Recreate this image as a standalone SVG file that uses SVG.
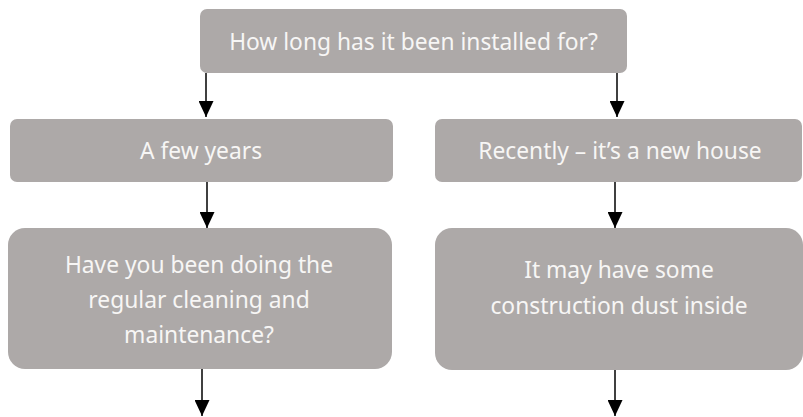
<svg xmlns="http://www.w3.org/2000/svg" width="803" height="417" viewBox="0 0 803 417">
<style>
.box{fill:#ADA9A8}
.t{font-family:"Noto Sans","Open Sans",sans-serif;font-size:22.8px;fill:#F7F6F5;text-anchor:middle}
.c{stroke:#000;stroke-width:1.5;fill:none}
</style>
<defs>
<marker id="ah" markerUnits="userSpaceOnUse" markerWidth="16" markerHeight="15" refX="16" refY="7.5" orient="auto" viewBox="0 0 16 15">
<path d="M0,0 L16,7.5 L0,15 Z" fill="#000"/>
</marker>
</defs>
<rect width="803" height="417" fill="#fff"/>
<g id="connectors">
<line class="c" x1="206" y1="73" x2="206" y2="117" marker-end="url(#ah)"/>
<line class="c" x1="617" y1="73" x2="617" y2="117" marker-end="url(#ah)"/>
<line class="c" x1="207" y1="182" x2="207" y2="228" marker-end="url(#ah)"/>
<line class="c" x1="615" y1="182" x2="615" y2="228" marker-end="url(#ah)"/>
<line class="c" x1="202" y1="369" x2="202" y2="416" marker-end="url(#ah)"/>
<line class="c" x1="615" y1="370" x2="615" y2="416" marker-end="url(#ah)"/>
</g>
<g id="n1">
<rect class="box" x="200" y="9" width="427" height="64" rx="7"/>
<text class="t" x="413.5" y="50">How long has it been installed for?</text>
</g>
<g id="n2">
<rect class="box" x="10" y="119" width="383" height="63" rx="7"/>
<text class="t" x="201" y="159">A few years</text>
</g>
<g id="n3">
<rect class="box" x="435" y="119" width="367" height="63" rx="7"/>
<text class="t" x="620" y="159">Recently – it’s a new house</text>
</g>
<g id="n4">
<rect class="box" x="8" y="228" width="384" height="141" rx="17"/>
<text class="t" x="199" y="273">Have you been doing the</text>
<text class="t" x="199" y="308">regular cleaning and</text>
<text class="t" x="199" y="343">maintenance?</text>
</g>
<g id="n5">
<rect class="box" x="435" y="228" width="368" height="142" rx="17"/>
<text class="t" x="619" y="278">It may have some</text>
<text class="t" x="619" y="314">construction dust inside</text>
</g>
</svg>
